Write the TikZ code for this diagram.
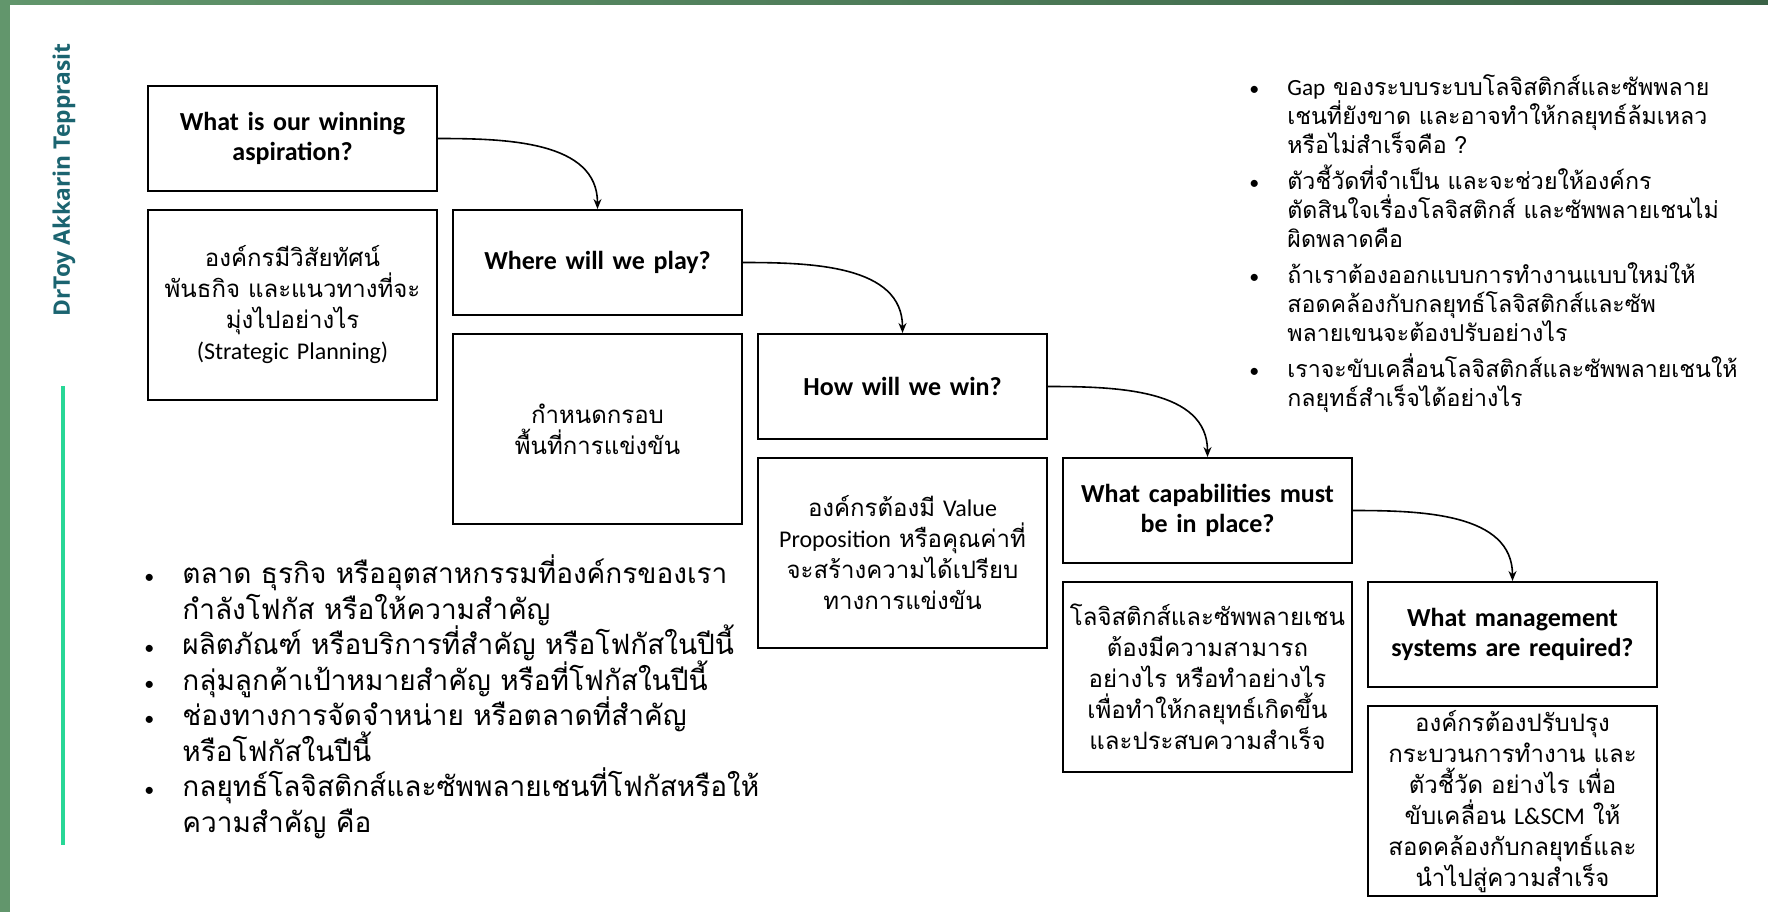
\documentclass[tikz,border=0pt]{standalone}
\usepackage{fontspec}
\setmainfont{Carlito}
\newfontfamily\thaifont[Script=Thai]{Loma}
\newfontfamily\latinfont{Carlito}
\newfontfamily\authorfont{Open Sans}
\usetikzlibrary{positioning,arrows.meta}
\definecolor{framegreen}{RGB}{98,150,108}
\definecolor{framedark}{RGB}{58,98,70}
\definecolor{authorteal}{RGB}{27,100,112}
\definecolor{markgreen}{RGB}{40,215,150}
\newcommand{\en}[1]{{\latinfont #1}}
\newcommand{\bpoint}[1][0pt]{\par\vspace{#1}\noindent\hangindent=19pt\hangafter=1\makebox[19pt][l]{\latinfont\fontsize{10}{10}\selectfont\textbullet}\ignorespaces}
\newcommand{\fixlines}{\lineskiplimit=-30pt\lineskip=0pt}

\begin{document}
\begin{tikzpicture}[x=0.5pt, y=-0.5pt, node distance=8.5pt]
    \tikzstyle{head} = [rectangle, draw, line width=1pt, minimum width=144.5pt, minimum height=52.5pt, text width=136pt, align=center, font=\bfseries\fontsize{13}{15}\selectfont]
    \tikzstyle{body} = [rectangle, draw, line width=1pt, minimum width=144.5pt, minimum height=95pt, text width=140pt, inner sep=2pt, align=center, font=\thaifont\fontsize{12}{15.5}\selectfont\fixlines]
    \tikzstyle{bullets} = [anchor=north west, inner sep=0pt, align=left]
    \tikzstyle{flow} = [-{Stealth[length=5pt, width=4pt]}, line width=0.8pt]

    % page and frame
    \fill[white] (0,0) rectangle (1768,912);
    \useasboundingbox (0,0) rectangle (1768,912);
    \fill[framegreen] (0,0) rectangle (10,912);
    \shade[left color=framegreen, right color=framedark] (0,0) rectangle (1768,4);

    % author mark
    \node[rotate=90, text=authorteal, font=\authorfont\bfseries\fontsize{11.4}{13}\selectfont] (author) at (64,180) {DrToy Akkarin Tepprasit};
    \draw[markgreen, line width=1.6pt] (63,386) -- (63,845);

    % staircase
    \node[head, anchor=north west] (aspire) at (147,85) {What is our winning\\aspiration?};
    \node[body, below=of aspire] (aspiredesc) {องค์กรมีวิสัยทัศน์\\พันธกิจ และแนวทางที่จะ\\มุ่งไปอย่างไร\\\en{(Strategic Planning)}};
    \node[head, right=7pt of aspiredesc.north east, anchor=north west] (play) {Where will we play?};
    \node[body, below=of play] (playdesc) {กำหนดกรอบ\\พื้นที่การแข่งขัน};
    \node[head, right=7pt of playdesc.north east, anchor=north west] (win) {How will we win?};
    \node[body, below=of win] (windesc) {องค์กรต้องมี \en{Value}\\\en{Proposition} หรือคุณค่าที่\\จะสร้างความได้เปรียบ\\ทางการแข่งขัน};
    \node[head, right=7pt of windesc.north east, anchor=north west] (capab) {What capabilities must\\be in place?};
    \node[body, below=of capab] (capabdesc) {โลจิสติกส์และซัพพลายเชน\\ต้องมีความสามารถ\\อย่างไร หรือทำอย่างไร\\เพื่อทำให้กลยุทธ์เกิดขึ้น\\และประสบความสำเร็จ};
    \node[head, right=7pt of capabdesc.north east, anchor=north west] (mgmt) {What management\\systems are required?};
    \node[body, below=of mgmt] (mgmtdesc) {องค์กรต้องปรับปรุง\\กระบวนการทำงาน และ\\ตัวชี้วัด อย่างไร เพื่อ\\ขับเคลื่อน \en{L\&SCM} ให้\\สอดคล้องกับกลยุทธ์และ\\นำไปสู่ความสำเร็จ};

    \draw[flow] (aspire.east) to[out=0, in=90] (play.north);
    \draw[flow] (play.east) to[out=0, in=90] (win.north);
    \draw[flow] (win.east) to[out=0, in=90] (capab.north);
    \draw[flow] (capab.east) to[out=0, in=90] (mgmt.north);

    % question lists
    \node[bullets, text width=255pt, font=\thaifont\fontsize{11.6}{14.5}\selectfont\fixlines] (gaps) at (1249,66) {%
        \bpoint \en{Gap} ของระบบระบบโลจิสติกส์และซัพพลาย\newline เชนที่ยังขาด และอาจทำให้กลยุทธ์ล้มเหลว\newline หรือไม่สำเร็จคือ ?
        \bpoint[3.5pt] ตัวชี้วัดที่จำเป็น และจะช่วยให้องค์กร\newline ตัดสินใจเรื่องโลจิสติกส์ และซัพพลายเชนไม่\newline ผิดพลาดคือ
        \bpoint[3.5pt] ถ้าเราต้องออกแบบการทำงานแบบใหม่ให้\newline สอดคล้องกับกลยุทธ์โลจิสติกส์และซัพ\newline พลายเขนจะต้องปรับอย่างไร
        \bpoint[3.5pt] เราจะขับเคลื่อนโลจิสติกส์และซัพพลายเชนให้\newline กลยุทธ์สำเร็จได้อย่างไร\par};
    \node[bullets, text width=300pt, font=\thaifont\fontsize{14}{17.75}\selectfont\fixlines] (focus) at (144,548) {%
        \bpoint ตลาด ธุรกิจ หรืออุตสาหกรรมที่องค์กรของเรา\newline กำลังโฟกัส หรือให้ความสำคัญ
        \bpoint ผลิตภัณฑ์ หรือบริการที่สำคัญ หรือโฟกัสในปีนี้
        \bpoint กลุ่มลูกค้าเป้าหมายสำคัญ หรือที่โฟกัสในปีนี้
        \bpoint ช่องทางการจัดจำหน่าย หรือตลาดที่สำคัญ\newline หรือโฟกัสในปีนี้
        \bpoint กลยุทธ์โลจิสติกส์และซัพพลายเชนที่โฟกัสหรือให้\newline ความสำคัญ คือ\par};
\end{tikzpicture}
\end{document}
